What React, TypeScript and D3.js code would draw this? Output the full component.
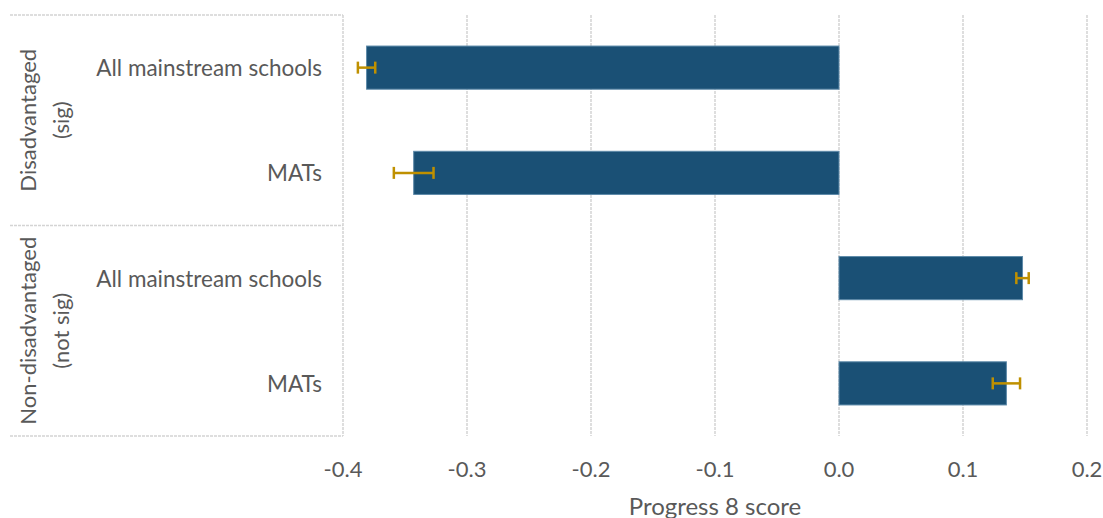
import React from "react";
import * as d3 from "d3";

// Progress 8 scores by pupil group, with confidence intervals
const groupLabels: string[][] = [
  ["Disadvantaged", "(sig)"],
  ["Non-disadvantaged", "(not sig)"],
];
const rowGroup = [0, 0, 1, 1];
const categories = ["All mainstream schools", "MATs", "All mainstream schools", "MATs"];
const scores = [-0.381, -0.343, 0.148, 0.135];
const errors = [0.007, 0.016, 0.005, 0.011];
const xTicks = [-0.4, -0.3, -0.2, -0.1, 0.0, 0.1, 0.2];
const xTitle = "Progress 8 score";

const W = 1103;
const H = 518;
const FONT = "Lato, 'Open Sans', sans-serif";
const TEXT = "#595959";
const GRID = "#d4d4d4";
const BAR = "#1a5075";
const BAR_EDGE = "#5e8aa9";
const ERR = "#bf9000";

export default function App() {
  const plotLeft = 343;
  const plotRight = 1087;
  const plotTop = 15;
  const plotBottom = 436;
  const tableLeft = 10;

  const x = d3.scaleLinear().domain([-0.4, 0.2]).range([plotLeft, plotRight]);
  const y = d3
    .scaleBand<number>()
    .domain(d3.range(categories.length))
    .range([plotTop, plotBottom])
    .paddingInner(0.59)
    .paddingOuter(0.295);
  const step = y.step();
  const rowTop = (i: number) => plotTop + i * step;

  // extent of each group in rows
  const groupRows = groupLabels.map((_, g) => {
    const rows = rowGroup.map((r, i) => (r === g ? i : -1)).filter((i) => i >= 0);
    return { start: d3.min(rows)!, end: d3.max(rows)! + 1 };
  });

  // plain hyphen for negatives
  const fmt = (v: number) => d3.format(".1f")(v).replace("\u2212", "-");

  return (
    <svg
      width={W}
      height={H}
      style={{ position: "absolute", left: 0, top: 0, background: "#fff" }}
      fontFamily={FONT}
    >
      {/* vertical gridlines */}
      {xTicks.map((t) => (
        <line
          key={"g" + t}
          x1={x(t)}
          x2={x(t)}
          y1={plotTop}
          y2={plotBottom}
          stroke={GRID}
          strokeWidth={1.5}
          strokeDasharray="3 1"
        />
      ))}

      {/* category table rules */}
      {groupRows.map((g, i) => (
        <line
          key={"t" + i}
          x1={tableLeft}
          x2={plotLeft}
          y1={rowTop(g.start)}
          y2={rowTop(g.start)}
          stroke={GRID}
          strokeWidth={1.5}
          strokeDasharray="3 1"
        />
      ))}
      <line
        x1={tableLeft}
        x2={plotLeft}
        y1={plotBottom}
        y2={plotBottom}
        stroke={GRID}
        strokeWidth={1.5}
        strokeDasharray="3 1"
      />

      {/* bars */}
      {scores.map((v, i) => {
        const x0 = x(0);
        const xv = x(v);
        return (
          <rect
            key={"b" + i}
            x={Math.min(x0, xv)}
            y={y(i)!}
            width={Math.abs(xv - x0)}
            height={y.bandwidth()}
            fill={BAR}
            stroke={BAR_EDGE}
            strokeWidth={1}
          />
        );
      })}

      {/* error bars */}
      {scores.map((v, i) => {
        const cy = y(i)! + y.bandwidth() / 2;
        const lo = x(v - errors[i]);
        const hi = x(v + errors[i]);
        return (
          <g key={"e" + i} stroke={ERR} strokeWidth={2.5}>
            <line x1={lo} x2={hi} y1={cy} y2={cy} />
            <line x1={lo} x2={lo} y1={cy - 6} y2={cy + 6} />
            <line x1={hi} x2={hi} y1={cy - 6} y2={cy + 6} />
          </g>
        );
      })}

      {/* category labels */}
      {categories.map((c, i) => (
        <text
          key={"c" + i}
          x={322}
          y={y(i)! + y.bandwidth() / 2}
          textAnchor="end"
          dominantBaseline="central"
          fontSize={22.5}
          fill={TEXT}
        >
          {c}
        </text>
      ))}

      {/* group labels, rotated */}
      {groupLabels.map((lines, g) => {
        const cy = (rowTop(groupRows[g].start) + rowTop(groupRows[g].end)) / 2;
        return (
          <text
            key={"gl" + g}
            transform={`translate(${44},${cy}) rotate(-90)`}
            textAnchor="middle"
            fontSize={22}
            fill={TEXT}
          >
            {lines.map((l, k) => (
              <tspan key={k} x={0} y={(k - (lines.length - 1) / 2) * 33} dominantBaseline="central">
                {l}
              </tspan>
            ))}
          </text>
        );
      })}

      {/* x tick labels */}
      {xTicks.map((t) => (
        <text
          key={"xt" + t}
          x={x(t)}
          y={468}
          textAnchor="middle"
          dominantBaseline="central"
          fontSize={22}
          fill={TEXT}
        >
          {fmt(t)}
        </text>
      ))}

      {/* axis title */}
      <text
        x={(plotLeft + plotRight) / 2}
        y={505}
        textAnchor="middle"
        dominantBaseline="central"
        fontSize={24}
        fill={TEXT}
      >
        {xTitle}
      </text>
    </svg>
  );
}
